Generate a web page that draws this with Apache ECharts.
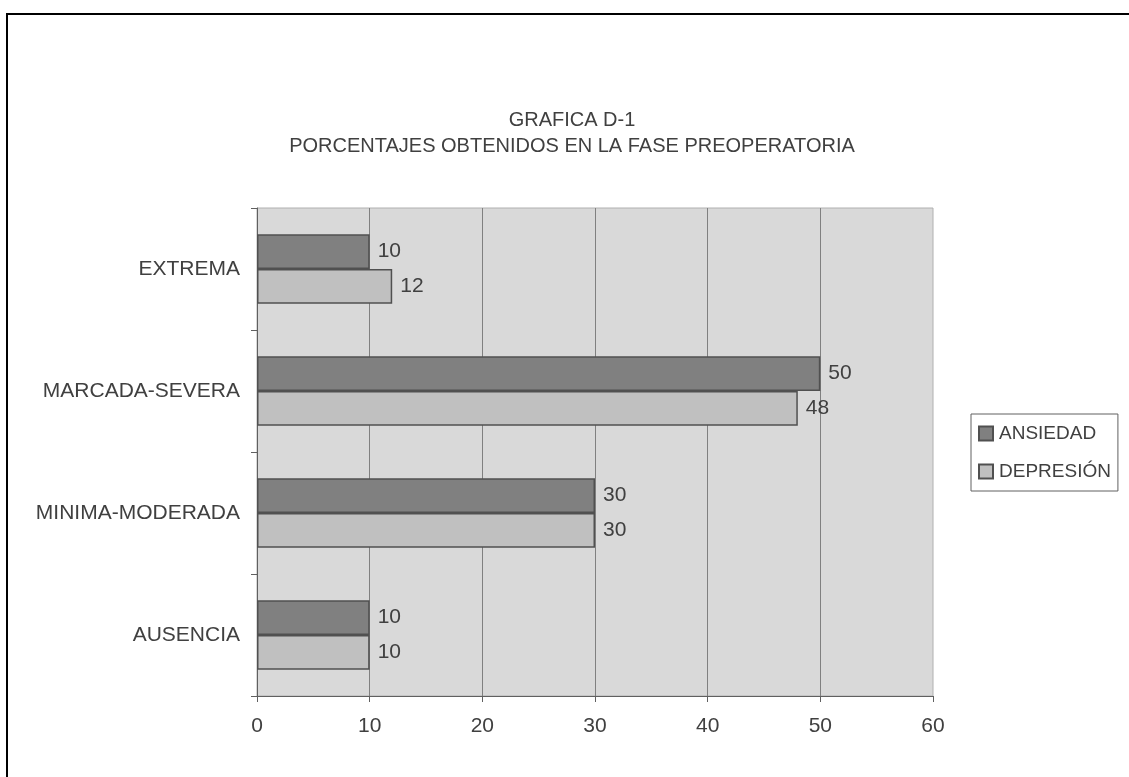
<!DOCTYPE html>
<html>
<head>
<meta charset="utf-8">
<title>GRAFICA D-1</title>
<script src="https://cdn.jsdelivr.net/npm/echarts@6/dist/echarts.min.js"></script>
<style>
  html, body { margin: 0; padding: 0; background: #ffffff; }
  #chart { position: absolute; left: 0; top: 0; width: 1129px; height: 777px; }
  #frame {
    position: absolute; left: 6px; top: 13px; width: 1200px; height: 800px;
    border-left: 2px solid #000; border-top: 2px solid #000;
    pointer-events: none;
  }
</style>
</head>
<body>
<div id="chart"></div>
<div id="frame"></div>
<script>
// Levels, listed from top to bottom of the chart
const categories = ['EXTREMA', 'MARCADA-SEVERA', 'MINIMA-MODERADA', 'AUSENCIA'];
const seriesNames = ['ANSIEDAD', 'DEPRESIÓN'];
const ansiedad = [10, 50, 30, 10];
const depresion = [12, 48, 30, 10];
const xTicks = { min: 0, max: 60, interval: 10 };
const titleLines = ['GRAFICA D-1', 'PORCENTAJES OBTENIDOS EN LA FASE PREOPERATORIA'];

const FONT = "'Liberation Sans', Arial, sans-serif";
const TEXT = '#404040';
const EDGE = '#505050';

const chart = echarts.init(document.getElementById('chart'), null, { renderer: 'canvas' });

function barSeries(name, data, fill) {
  return {
    name: name,
    type: 'bar',
    data: data,
    barGap: '0%',
    barCategoryGap: '43%',
    itemStyle: { color: fill, borderColor: EDGE, borderWidth: 1.5 },
    label: {
      show: true,
      position: 'right',
      distance: 8,
      color: TEXT,
      fontFamily: FONT,
      fontSize: 21
    },
    emphasis: { disabled: true }
  };
}

chart.setOption({
  backgroundColor: '#ffffff',
  animation: false,
  title: {
    text: titleLines.join('\n'),
    left: 572,
    top: 107,
    padding: 0,
    textAlign: 'center',
    textStyle: {
      fontFamily: FONT,
      fontSize: 20,
      fontWeight: 'normal',
      color: TEXT,
      lineHeight: 26
    }
  },
  legend: {
    orient: 'vertical',
    left: 971,
    top: 414,
    padding: [10, 7, 10, 7],
    itemGap: 19,
    itemWidth: 14,
    itemHeight: 14,
    icon: 'rect',
    backgroundColor: '#ffffff',
    borderColor: '#606060',
    borderWidth: 1,
    textStyle: { fontFamily: FONT, fontSize: 19, color: TEXT, padding: [0, 0, 0, 1] },
    data: seriesNames
  },
  grid: {
    left: 257,
    right: 196,
    top: 208,
    bottom: 81,
    show: true,
    backgroundColor: '#d9d9d9',
    borderColor: '#b0b0b0',
    borderWidth: 1
  },
  xAxis: {
    type: 'value',
    min: xTicks.min,
    max: xTicks.max,
    interval: xTicks.interval,
    axisLine: { show: true, lineStyle: { color: '#606060', width: 1 } },
    axisTick: { show: true, length: 6, lineStyle: { color: '#606060' } },
    axisLabel: { margin: 20, fontFamily: FONT, fontSize: 21, color: TEXT },
    splitLine: { show: true, showMaxLine: false, lineStyle: { color: '#808080', width: 1 } }
  },
  yAxis: {
    type: 'category',
    inverse: true,
    data: categories,
    axisLine: { show: true, lineStyle: { color: '#606060', width: 1 } },
    axisTick: { show: true, length: 6, lineStyle: { color: '#606060' } },
    axisLabel: { margin: 17, fontFamily: FONT, fontSize: 21, color: TEXT }
  },
  series: [
    barSeries(seriesNames[0], ansiedad, '#808080'),
    barSeries(seriesNames[1], depresion, '#c0c0c0')
  ]
});
</script>
</body>
</html>
